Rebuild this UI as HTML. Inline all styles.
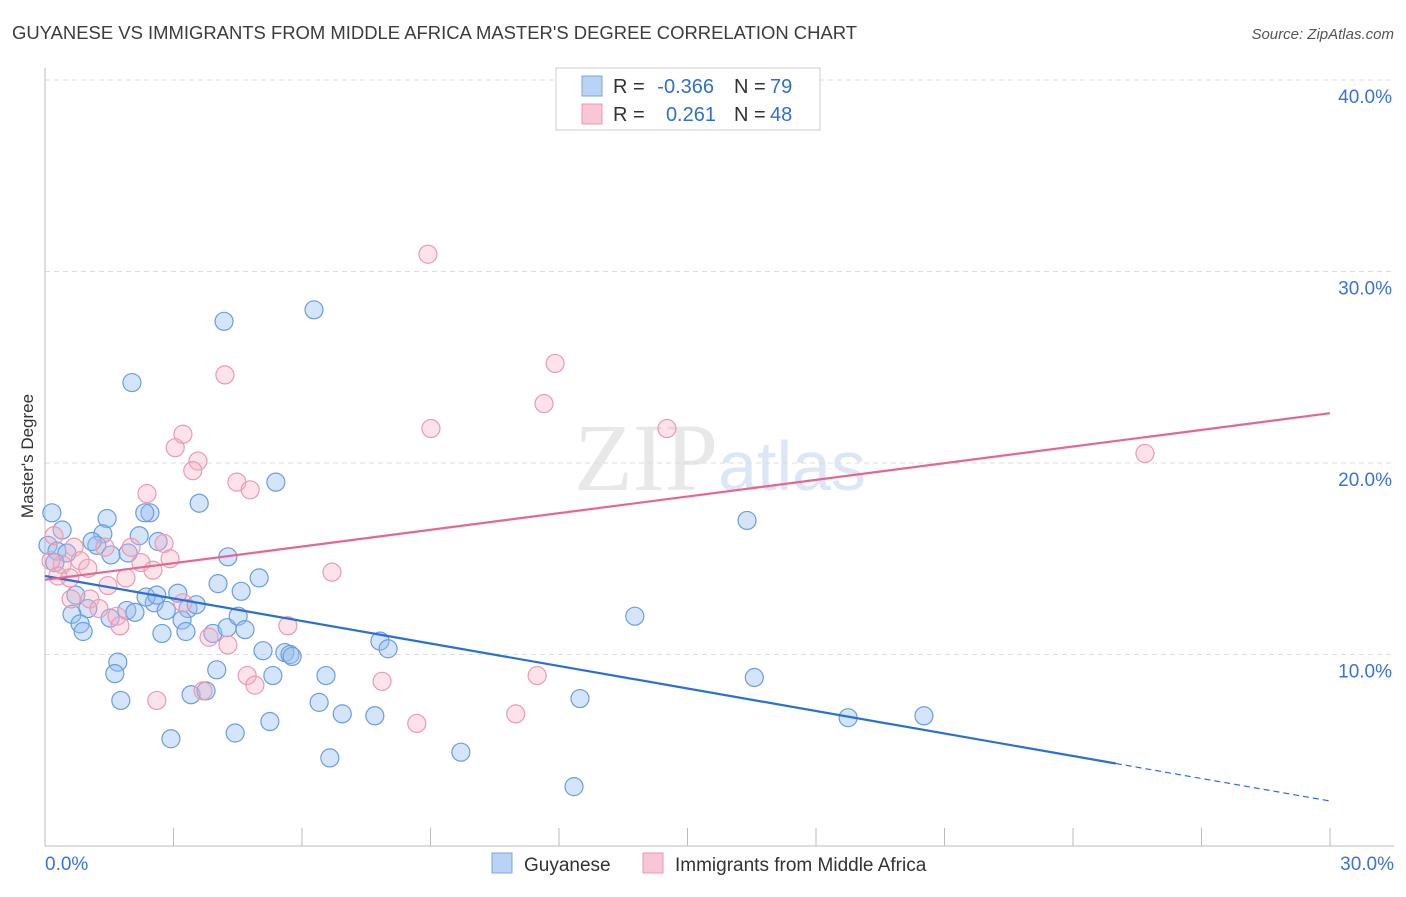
<!DOCTYPE html>
<html><head><meta charset="utf-8"><style>
body{margin:0;background:#fff;font-family:"Liberation Sans",sans-serif}
</style></head><body>
<svg id="chart" width="1406" height="892" xmlns="http://www.w3.org/2000/svg" font-family="Liberation Sans, sans-serif">
<text x="12" y="39" font-size="18" fill="#3c3c3c" textLength="845" lengthAdjust="spacingAndGlyphs">GUYANESE VS IMMIGRANTS FROM MIDDLE AFRICA MASTER'S DEGREE CORRELATION CHART</text>
<text x="1394" y="39" font-size="15" fill="#555" font-style="italic" text-anchor="end">Source: ZipAtlas.com</text>
<text transform="translate(33,456) rotate(-90)" font-size="17" fill="#333" text-anchor="middle">Master's Degree</text>
<text x="720" y="490" font-size="96" fill="#e8e8e8" text-anchor="middle" font-family="Liberation Serif, serif">ZIP<tspan fill="#dce6f4" font-family="Liberation Sans, sans-serif" font-size="70">atlas</tspan></text>
<g id="grid"></g><g id="axes"></g><g id="pts"></g><g id="lines"></g>
<g>
<rect x="556" y="68" width="264" height="62" fill="#fff" stroke="#ccc"/>
<rect x="582" y="76" width="20" height="20" fill="#b8d3f5" stroke="#7aa6e0"/>
<rect x="582" y="104" width="20" height="20" fill="#f8c6d4" stroke="#eb9ab2"/>
<text x="613" y="93" font-size="20" fill="#333">R =</text>
<text x="714" y="93" font-size="20" fill="#2f6fd6" text-anchor="end">-0.366</text>
<text x="734" y="93" font-size="20" fill="#333">N =</text>
<text x="770" y="93" font-size="20" fill="#2f6fd6">79</text>
<text x="613" y="121" font-size="20" fill="#333">R =</text>
<text x="716" y="121" font-size="20" fill="#2f6fd6" text-anchor="end">0.261</text>
<text x="734" y="121" font-size="20" fill="#333">N =</text>
<text x="770" y="121" font-size="20" fill="#2f6fd6">48</text>
</g>
<g>
<rect x="492" y="853" width="20" height="20" fill="#b8d3f5" stroke="#7aa6e0"/>
<text x="524" y="871" font-size="19" fill="#333">Guyanese</text>
<rect x="643" y="853" width="20" height="20" fill="#f8c6d4" stroke="#eb9ab2"/>
<text x="675" y="871" font-size="19" fill="#333">Immigrants from Middle Africa</text>
</g>
</svg>
<script>
const yTicks=[10,20,30,40];
const yTickLabels=["10.0%","20.0%","30.0%","40.0%"];
const xTickLabels=["0.0%","30.0%"];
const blueX=[0.16,0.4,0.07,0.28,0.51,0.23,1.45,1.35,1.21,1.1,1.54,1.94,2.2,2.45,2.33,2.64,2.03,4.18,6.28,5.39,3.6,4.27,5.0,4.04,4.58,0.72,1.0,0.63,0.82,0.89,1.91,2.1,2.55,2.36,2.61,2.83,3.1,3.34,3.53,3.2,3.29,2.73,3.92,4.25,4.51,4.67,5.09,5.6,5.72,5.77,5.32,4.01,6.56,7.82,8.01,1.7,1.63,1.77,3.41,3.76,6.4,6.94,7.7,2.94,4.44,5.25,6.65,9.71,12.35,12.49,13.77,16.39,16.56,18.75,20.52,1.52];
const blueY=[17.4,16.5,15.7,15.4,15.3,14.8,17.1,16.3,15.7,15.9,15.2,15.3,16.2,17.4,17.4,15.9,24.2,27.4,28.0,19.0,17.9,15.1,14.0,13.7,13.3,13.1,12.4,12.1,11.6,11.2,12.3,12.2,12.7,13.0,13.1,12.3,13.2,12.4,12.6,11.8,11.2,11.1,11.1,11.4,12.0,11.3,10.2,10.1,10.0,9.9,8.9,9.2,8.9,10.7,10.3,9.6,9.0,7.6,7.9,8.1,7.5,6.9,6.8,5.6,5.9,6.5,4.6,4.9,3.1,7.7,12.0,17.0,8.8,6.7,6.8,11.9];
const pinkX=[8.94,11.91,4.2,11.65,3.22,9.01,14.52,3.04,3.57,3.45,25.68,4.48,4.79,2.38,0.21,0.68,1.4,0.82,0.4,0.3,0.58,1.0,2.24,2.01,2.78,2.92,2.52,1.89,1.47,6.7,1.05,0.61,1.26,1.68,1.75,3.22,3.83,4.27,5.67,4.72,4.9,7.87,3.69,2.61,8.68,10.99,11.49,0.14];
const pinkY=[30.9,25.2,24.6,23.1,21.5,21.8,21.8,20.8,20.1,19.6,20.5,19.0,18.6,18.4,16.2,15.6,15.6,14.9,14.7,14.1,14.0,14.5,14.8,15.6,15.8,15.0,14.4,14.0,13.6,14.3,12.9,12.9,12.4,12.0,11.5,12.7,10.9,10.5,11.5,8.9,8.4,8.6,8.1,7.6,6.4,6.9,8.9,14.9];
const blueTrend=[14.1,2.35], pinkTrend=[13.9,22.6];
const X0=45,X1=1330,Y0=846,PY=19.15;
const sx=v=>X0+(v/30)*(X1-X0), sy=v=>Y0-v*PY;
const NS="http://www.w3.org/2000/svg";
function mk(t,a,p){const e=document.createElementNS(NS,t);for(const k in a)e.setAttribute(k,a[k]);p.appendChild(e);return e;}
const grid=document.getElementById('grid'),axes=document.getElementById('axes'),pts=document.getElementById('pts'),lines=document.getElementById('lines');
yTicks.forEach((t,i)=>{
 const l=mk('line',{x1:45,x2:1394,y1:sy(t),y2:sy(t),stroke:'#ddd','stroke-dasharray':'5,4'},grid);
 
 
 const tx=mk('text',{x:1392,y:sy(t)+23,'font-size':19,fill:'#3a74d8','text-anchor':'end'},axes);
 tx.textContent=yTickLabels[i];
 
 
});
const ax=mk('line',{x1:45,x2:45,y1:68,y2:846,stroke:'#bbb'},axes);


const xa=mk('line',{x1:45,x2:1394,y1:846,y2:846,stroke:'#bbb'},axes);


for(let i=1;i<=10;i++){const x=X0+i*128.5;const t=mk('line',{x1:x,x2:x,y1:828,y2:846,stroke:'#bbb'},axes);
 
 }
[[0,'start',45],[1,'end',1394]].forEach(([i,a,x])=>{const t=mk('text',{x:x,y:870,'font-size':19,fill:'#3a74d8','text-anchor':a},axes);t.textContent=xTickLabels[i];
 
 });
blueX.forEach((v,i)=>{const c=mk('circle',{cx:sx(v),cy:sy(blueY[i]),r:9,fill:'rgba(150,190,240,0.4)',stroke:'#6a9de0','stroke-width':1.2},pts);
 
 });
pinkX.forEach((v,i)=>{const c=mk('circle',{cx:sx(v),cy:sy(pinkY[i]),r:9,fill:'rgba(245,175,195,0.35)',stroke:'#eb9ab2','stroke-width':1.2},pts);
 
 });
const bAt=x=>blueTrend[0]+(blueTrend[1]-blueTrend[0])*x/30;
const b1=mk('line',{x1:sx(0),y1:sy(bAt(0)),x2:sx(25),y2:sy(bAt(25)),stroke:'#2a6fd8','stroke-width':2.2},lines);


const b2=mk('line',{x1:sx(25),y1:sy(bAt(25)),x2:sx(30),y2:sy(bAt(30)),stroke:'#2a6fd8','stroke-width':1.2,'stroke-dasharray':'6,4'},lines);


const p1=mk('line',{x1:sx(0),y1:sy(pinkTrend[0]),x2:sx(30),y2:sy(pinkTrend[1]),stroke:'#e8658f','stroke-width':2.2},lines);


</script>
</body></html>
